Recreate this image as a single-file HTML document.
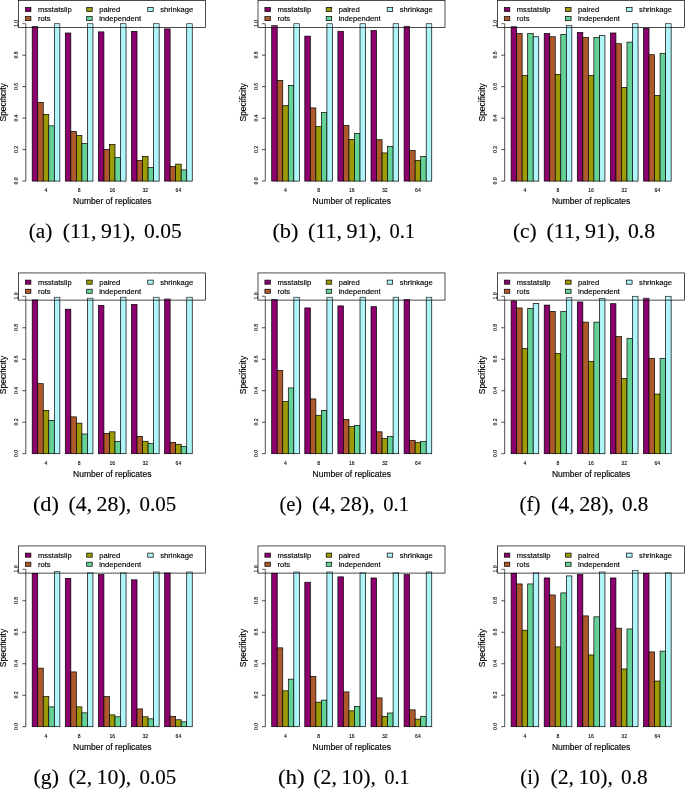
<!DOCTYPE html>
<html><head><meta charset="utf-8"><title>Specificity barplots</title>
<style>
html,body{margin:0;padding:0;background:#fff;overflow:hidden;width:685px;height:789px;}
svg{display:block;transform:translateZ(0);will-change:transform;}
text{font-family:"Liberation Sans",sans-serif;fill:#000;stroke:#000;stroke-width:.15px;}
.t{font-size:5.1px;stroke-width:.1px;}
.l{font-size:8.5px;}
.g{font-size:7.6px;}
.c{font-family:"Liberation Serif",serif;font-size:21px;stroke-width:.12px;}
</style></head><body>
<svg width="685" height="789" viewBox="0 0 685 789">
<rect width="685" height="789" fill="#fff"/>
<g transform="translate(0,0)">
<g stroke="#000" stroke-width="0.7">
<rect x="32.2" y="26.38" width="5.53" height="154.72" fill="#8c006e"/>
<rect x="37.73" y="102.4" width="5.53" height="78.7" fill="#ad592c"/>
<rect x="43.26" y="114.36" width="5.53" height="66.74" fill="#9c9a05"/>
<rect x="48.79" y="125.85" width="5.53" height="55.25" fill="#64d296"/>
<rect x="54.32" y="23.7" width="5.53" height="157.4" fill="#aff4f8"/>
<rect x="65.3" y="32.99" width="5.53" height="148.11" fill="#8c006e"/>
<rect x="70.83" y="131.36" width="5.53" height="49.74" fill="#ad592c"/>
<rect x="76.36" y="135.45" width="5.53" height="45.65" fill="#9c9a05"/>
<rect x="81.89" y="143.64" width="5.53" height="37.46" fill="#64d296"/>
<rect x="87.42" y="23.7" width="5.53" height="157.4" fill="#aff4f8"/>
<rect x="98.4" y="31.88" width="5.53" height="149.22" fill="#8c006e"/>
<rect x="103.93" y="149.31" width="5.53" height="31.79" fill="#ad592c"/>
<rect x="109.46" y="144.43" width="5.53" height="36.67" fill="#9c9a05"/>
<rect x="114.99" y="157.65" width="5.53" height="23.45" fill="#64d296"/>
<rect x="120.52" y="23.7" width="5.53" height="157.4" fill="#aff4f8"/>
<rect x="131.5" y="31.41" width="5.53" height="149.69" fill="#8c006e"/>
<rect x="137.03" y="160.32" width="5.53" height="20.78" fill="#ad592c"/>
<rect x="142.56" y="156.39" width="5.53" height="24.71" fill="#9c9a05"/>
<rect x="148.09" y="167.41" width="5.53" height="13.69" fill="#64d296"/>
<rect x="153.62" y="23.7" width="5.53" height="157.4" fill="#aff4f8"/>
<rect x="164.6" y="28.89" width="5.53" height="152.21" fill="#8c006e"/>
<rect x="170.13" y="166.62" width="5.53" height="14.48" fill="#ad592c"/>
<rect x="175.66" y="164.1" width="5.53" height="17" fill="#9c9a05"/>
<rect x="181.19" y="169.92" width="5.53" height="11.18" fill="#64d296"/>
<rect x="186.72" y="23.7" width="5.53" height="157.4" fill="#aff4f8"/>
</g>
<g stroke="#000" stroke-width="0.7" fill="none">
<path d="M25.8 181.1V23.7M25.8 181.1h-3.4M25.8 149.62h-3.4M25.8 118.14h-3.4M25.8 86.66h-3.4M25.8 55.18h-3.4M25.8 23.7h-3.4"/>
</g>
<text class="t" transform="translate(18.4,180.85) rotate(-90)" text-anchor="middle">0.0</text>
<text class="t" transform="translate(18.4,149.37) rotate(-90)" text-anchor="middle">0.2</text>
<text class="t" transform="translate(18.4,117.89) rotate(-90)" text-anchor="middle">0.4</text>
<text class="t" transform="translate(18.4,86.41) rotate(-90)" text-anchor="middle">0.6</text>
<text class="t" transform="translate(18.4,54.93) rotate(-90)" text-anchor="middle">0.8</text>
<text class="t" transform="translate(18.4,23.45) rotate(-90)" text-anchor="middle">1.0</text>
<text class="l" transform="translate(6.0,102.4) rotate(-90)" text-anchor="middle">Specificity</text>
<text class="t" x="46.03" y="192.3" text-anchor="middle">4</text>
<text class="t" x="79.13" y="192.3" text-anchor="middle">8</text>
<text class="t" x="112.23" y="192.3" text-anchor="middle">16</text>
<text class="t" x="145.32" y="192.3" text-anchor="middle">32</text>
<text class="t" x="178.43" y="192.3" text-anchor="middle">64</text>
<text class="l" x="112.23" y="204.2" text-anchor="middle">Number of replicates</text>
<rect x="18.5" y="0.35" width="187" height="27.15" fill="#fff" fill-opacity="0.15" stroke="#000" stroke-width="0.7"/>
<rect x="25.4" y="7.5" width="5.5" height="4.1" fill="#8c006e" stroke="#000" stroke-width="0.7"/>
<text class="g" x="37.9" y="12.1">msstatslip</text>
<rect x="25.4" y="16.6" width="5.5" height="4.1" fill="#ad592c" stroke="#000" stroke-width="0.7"/>
<text class="g" x="37.9" y="21.2">rots</text>
<rect x="86.7" y="7.5" width="5.5" height="4.1" fill="#9c9a05" stroke="#000" stroke-width="0.7"/>
<text class="g" x="99.2" y="12.1">paired</text>
<rect x="86.7" y="16.6" width="5.5" height="4.1" fill="#64d296" stroke="#000" stroke-width="0.7"/>
<text class="g" x="99.2" y="21.2">independent</text>
<rect x="147.7" y="7.5" width="5.5" height="4.1" fill="#aff4f8" stroke="#000" stroke-width="0.7"/>
<text class="g" x="160.2" y="12.1">shrinkage</text>
<text class="c" x="28.7" y="238.4" textLength="23.6" lengthAdjust="spacingAndGlyphs">(a)</text>
<text class="c" x="62.7" y="238.4" textLength="72.9" lengthAdjust="spacingAndGlyphs">(11, 91),</text>
<text class="c" x="144.1" y="238.4" textLength="37.7" lengthAdjust="spacingAndGlyphs">0.05</text>
</g>
<g transform="translate(239.5,0)">
<g stroke="#000" stroke-width="0.7">
<rect x="32.2" y="25.43" width="5.53" height="155.67" fill="#8c006e"/>
<rect x="37.73" y="80.36" width="5.53" height="100.74" fill="#ad592c"/>
<rect x="43.26" y="105.71" width="5.53" height="75.39" fill="#9c9a05"/>
<rect x="48.79" y="85.4" width="5.53" height="95.7" fill="#64d296"/>
<rect x="54.32" y="23.7" width="5.53" height="157.4" fill="#aff4f8"/>
<rect x="65.3" y="36.13" width="5.53" height="144.97" fill="#8c006e"/>
<rect x="70.83" y="107.91" width="5.53" height="73.19" fill="#ad592c"/>
<rect x="76.36" y="126.64" width="5.53" height="54.46" fill="#9c9a05"/>
<rect x="81.89" y="112.63" width="5.53" height="68.47" fill="#64d296"/>
<rect x="87.42" y="23.7" width="5.53" height="157.4" fill="#aff4f8"/>
<rect x="98.4" y="31.26" width="5.53" height="149.84" fill="#8c006e"/>
<rect x="103.93" y="125.38" width="5.53" height="55.72" fill="#ad592c"/>
<rect x="109.46" y="139.39" width="5.53" height="41.71" fill="#9c9a05"/>
<rect x="114.99" y="133.57" width="5.53" height="47.53" fill="#64d296"/>
<rect x="120.52" y="23.7" width="5.53" height="157.4" fill="#aff4f8"/>
<rect x="131.5" y="30.47" width="5.53" height="150.63" fill="#8c006e"/>
<rect x="137.03" y="139.7" width="5.53" height="41.4" fill="#ad592c"/>
<rect x="142.56" y="152.93" width="5.53" height="28.17" fill="#9c9a05"/>
<rect x="148.09" y="146.31" width="5.53" height="34.79" fill="#64d296"/>
<rect x="153.62" y="23.7" width="5.53" height="157.4" fill="#aff4f8"/>
<rect x="164.6" y="26.22" width="5.53" height="154.88" fill="#8c006e"/>
<rect x="170.13" y="150.41" width="5.53" height="30.69" fill="#ad592c"/>
<rect x="175.66" y="160.32" width="5.53" height="20.78" fill="#9c9a05"/>
<rect x="181.19" y="156.55" width="5.53" height="24.55" fill="#64d296"/>
<rect x="186.72" y="23.7" width="5.53" height="157.4" fill="#aff4f8"/>
</g>
<g stroke="#000" stroke-width="0.7" fill="none">
<path d="M25.8 181.1V23.7M25.8 181.1h-3.4M25.8 149.62h-3.4M25.8 118.14h-3.4M25.8 86.66h-3.4M25.8 55.18h-3.4M25.8 23.7h-3.4"/>
</g>
<text class="t" transform="translate(18.4,180.85) rotate(-90)" text-anchor="middle">0.0</text>
<text class="t" transform="translate(18.4,149.37) rotate(-90)" text-anchor="middle">0.2</text>
<text class="t" transform="translate(18.4,117.89) rotate(-90)" text-anchor="middle">0.4</text>
<text class="t" transform="translate(18.4,86.41) rotate(-90)" text-anchor="middle">0.6</text>
<text class="t" transform="translate(18.4,54.93) rotate(-90)" text-anchor="middle">0.8</text>
<text class="t" transform="translate(18.4,23.45) rotate(-90)" text-anchor="middle">1.0</text>
<text class="l" transform="translate(6.0,102.4) rotate(-90)" text-anchor="middle">Specificity</text>
<text class="t" x="46.03" y="192.3" text-anchor="middle">4</text>
<text class="t" x="79.13" y="192.3" text-anchor="middle">8</text>
<text class="t" x="112.23" y="192.3" text-anchor="middle">16</text>
<text class="t" x="145.32" y="192.3" text-anchor="middle">32</text>
<text class="t" x="178.43" y="192.3" text-anchor="middle">64</text>
<text class="l" x="112.23" y="204.2" text-anchor="middle">Number of replicates</text>
<rect x="18.5" y="0.35" width="187" height="27.15" fill="#fff" fill-opacity="0.15" stroke="#000" stroke-width="0.7"/>
<rect x="25.4" y="7.5" width="5.5" height="4.1" fill="#8c006e" stroke="#000" stroke-width="0.7"/>
<text class="g" x="37.9" y="12.1">msstatslip</text>
<rect x="25.4" y="16.6" width="5.5" height="4.1" fill="#ad592c" stroke="#000" stroke-width="0.7"/>
<text class="g" x="37.9" y="21.2">rots</text>
<rect x="86.7" y="7.5" width="5.5" height="4.1" fill="#9c9a05" stroke="#000" stroke-width="0.7"/>
<text class="g" x="99.2" y="12.1">paired</text>
<rect x="86.7" y="16.6" width="5.5" height="4.1" fill="#64d296" stroke="#000" stroke-width="0.7"/>
<text class="g" x="99.2" y="21.2">independent</text>
<rect x="147.7" y="7.5" width="5.5" height="4.1" fill="#aff4f8" stroke="#000" stroke-width="0.7"/>
<text class="g" x="160.2" y="12.1">shrinkage</text>
<text class="c" x="32.9" y="238.4" textLength="26.1" lengthAdjust="spacingAndGlyphs">(b)</text>
<text class="c" x="68.4" y="238.4" textLength="73.7" lengthAdjust="spacingAndGlyphs">(11, 91),</text>
<text class="c" x="150" y="238.4" textLength="25.6" lengthAdjust="spacingAndGlyphs">0.1</text>
</g>
<g transform="translate(478.9,0)">
<g stroke="#000" stroke-width="0.7">
<rect x="32.2" y="26.69" width="5.53" height="154.41" fill="#8c006e"/>
<rect x="37.73" y="33.62" width="5.53" height="147.48" fill="#ad592c"/>
<rect x="43.26" y="75.48" width="5.53" height="105.62" fill="#9c9a05"/>
<rect x="48.79" y="33.62" width="5.53" height="147.48" fill="#64d296"/>
<rect x="54.32" y="36.76" width="5.53" height="144.34" fill="#aff4f8"/>
<rect x="65.3" y="33.46" width="5.53" height="147.64" fill="#8c006e"/>
<rect x="70.83" y="36.76" width="5.53" height="144.34" fill="#ad592c"/>
<rect x="76.36" y="74.38" width="5.53" height="106.72" fill="#9c9a05"/>
<rect x="81.89" y="34.4" width="5.53" height="146.7" fill="#64d296"/>
<rect x="87.42" y="25.43" width="5.53" height="155.67" fill="#aff4f8"/>
<rect x="98.4" y="32.51" width="5.53" height="148.59" fill="#8c006e"/>
<rect x="103.93" y="37.39" width="5.53" height="143.71" fill="#ad592c"/>
<rect x="109.46" y="75.48" width="5.53" height="105.62" fill="#9c9a05"/>
<rect x="114.99" y="37.39" width="5.53" height="143.71" fill="#64d296"/>
<rect x="120.52" y="35.5" width="5.53" height="145.59" fill="#aff4f8"/>
<rect x="131.5" y="32.99" width="5.53" height="148.11" fill="#8c006e"/>
<rect x="137.03" y="43.69" width="5.53" height="137.41" fill="#ad592c"/>
<rect x="142.56" y="87.45" width="5.53" height="93.65" fill="#9c9a05"/>
<rect x="148.09" y="42.12" width="5.53" height="138.98" fill="#64d296"/>
<rect x="153.62" y="23.7" width="5.53" height="157.4" fill="#aff4f8"/>
<rect x="164.6" y="28.26" width="5.53" height="152.84" fill="#8c006e"/>
<rect x="170.13" y="54.71" width="5.53" height="126.39" fill="#ad592c"/>
<rect x="175.66" y="95.47" width="5.53" height="85.63" fill="#9c9a05"/>
<rect x="181.19" y="53.61" width="5.53" height="127.49" fill="#64d296"/>
<rect x="186.72" y="23.7" width="5.53" height="157.4" fill="#aff4f8"/>
</g>
<g stroke="#000" stroke-width="0.7" fill="none">
<path d="M25.8 181.1V23.7M25.8 181.1h-3.4M25.8 149.62h-3.4M25.8 118.14h-3.4M25.8 86.66h-3.4M25.8 55.18h-3.4M25.8 23.7h-3.4"/>
</g>
<text class="t" transform="translate(18.4,180.85) rotate(-90)" text-anchor="middle">0.0</text>
<text class="t" transform="translate(18.4,149.37) rotate(-90)" text-anchor="middle">0.2</text>
<text class="t" transform="translate(18.4,117.89) rotate(-90)" text-anchor="middle">0.4</text>
<text class="t" transform="translate(18.4,86.41) rotate(-90)" text-anchor="middle">0.6</text>
<text class="t" transform="translate(18.4,54.93) rotate(-90)" text-anchor="middle">0.8</text>
<text class="t" transform="translate(18.4,23.45) rotate(-90)" text-anchor="middle">1.0</text>
<text class="l" transform="translate(6.0,102.4) rotate(-90)" text-anchor="middle">Specificity</text>
<text class="t" x="46.03" y="192.3" text-anchor="middle">4</text>
<text class="t" x="79.13" y="192.3" text-anchor="middle">8</text>
<text class="t" x="112.23" y="192.3" text-anchor="middle">16</text>
<text class="t" x="145.32" y="192.3" text-anchor="middle">32</text>
<text class="t" x="178.43" y="192.3" text-anchor="middle">64</text>
<text class="l" x="112.23" y="204.2" text-anchor="middle">Number of replicates</text>
<rect x="18.5" y="0.35" width="187" height="27.15" fill="#fff" fill-opacity="0.15" stroke="#000" stroke-width="0.7"/>
<rect x="25.4" y="7.5" width="5.5" height="4.1" fill="#8c006e" stroke="#000" stroke-width="0.7"/>
<text class="g" x="37.9" y="12.1">msstatslip</text>
<rect x="25.4" y="16.6" width="5.5" height="4.1" fill="#ad592c" stroke="#000" stroke-width="0.7"/>
<text class="g" x="37.9" y="21.2">rots</text>
<rect x="86.7" y="7.5" width="5.5" height="4.1" fill="#9c9a05" stroke="#000" stroke-width="0.7"/>
<text class="g" x="99.2" y="12.1">paired</text>
<rect x="86.7" y="16.6" width="5.5" height="4.1" fill="#64d296" stroke="#000" stroke-width="0.7"/>
<text class="g" x="99.2" y="21.2">independent</text>
<rect x="147.7" y="7.5" width="5.5" height="4.1" fill="#aff4f8" stroke="#000" stroke-width="0.7"/>
<text class="g" x="160.2" y="12.1">shrinkage</text>
<text class="c" x="34" y="238.4" textLength="23.8" lengthAdjust="spacingAndGlyphs">(c)</text>
<text class="c" x="67.5" y="238.4" textLength="73.7" lengthAdjust="spacingAndGlyphs">(11, 91),</text>
<text class="c" x="149.1" y="238.4" textLength="27.1" lengthAdjust="spacingAndGlyphs">0.8</text>
</g>
<g transform="translate(0,272.6)">
<g stroke="#000" stroke-width="0.7">
<rect x="32.2" y="27.32" width="5.53" height="153.78" fill="#8c006e"/>
<rect x="37.73" y="111.06" width="5.53" height="70.04" fill="#ad592c"/>
<rect x="43.26" y="137.81" width="5.53" height="43.28" fill="#9c9a05"/>
<rect x="48.79" y="147.73" width="5.53" height="33.37" fill="#64d296"/>
<rect x="54.32" y="24.64" width="5.53" height="156.46" fill="#aff4f8"/>
<rect x="65.3" y="36.61" width="5.53" height="144.49" fill="#8c006e"/>
<rect x="70.83" y="144.27" width="5.53" height="36.83" fill="#ad592c"/>
<rect x="76.36" y="150.56" width="5.53" height="30.54" fill="#9c9a05"/>
<rect x="81.89" y="161.42" width="5.53" height="19.68" fill="#64d296"/>
<rect x="87.42" y="25.59" width="5.53" height="155.51" fill="#aff4f8"/>
<rect x="98.4" y="32.83" width="5.53" height="148.27" fill="#8c006e"/>
<rect x="103.93" y="160.8" width="5.53" height="20.3" fill="#ad592c"/>
<rect x="109.46" y="159.22" width="5.53" height="21.88" fill="#9c9a05"/>
<rect x="114.99" y="168.98" width="5.53" height="12.12" fill="#64d296"/>
<rect x="120.52" y="24.64" width="5.53" height="156.46" fill="#aff4f8"/>
<rect x="131.5" y="31.88" width="5.53" height="149.22" fill="#8c006e"/>
<rect x="137.03" y="163.79" width="5.53" height="17.31" fill="#ad592c"/>
<rect x="142.56" y="168.67" width="5.53" height="12.43" fill="#9c9a05"/>
<rect x="148.09" y="171.03" width="5.53" height="10.07" fill="#64d296"/>
<rect x="153.62" y="24.64" width="5.53" height="156.46" fill="#aff4f8"/>
<rect x="164.6" y="26.38" width="5.53" height="154.72" fill="#8c006e"/>
<rect x="170.13" y="169.77" width="5.53" height="11.33" fill="#ad592c"/>
<rect x="175.66" y="171.66" width="5.53" height="9.44" fill="#9c9a05"/>
<rect x="181.19" y="174.02" width="5.53" height="7.08" fill="#64d296"/>
<rect x="186.72" y="24.64" width="5.53" height="156.46" fill="#aff4f8"/>
</g>
<g stroke="#000" stroke-width="0.7" fill="none">
<path d="M25.8 181.1V23.7M25.8 181.1h-3.4M25.8 149.62h-3.4M25.8 118.14h-3.4M25.8 86.66h-3.4M25.8 55.18h-3.4M25.8 23.7h-3.4"/>
</g>
<text class="t" transform="translate(18.4,180.85) rotate(-90)" text-anchor="middle">0.0</text>
<text class="t" transform="translate(18.4,149.37) rotate(-90)" text-anchor="middle">0.2</text>
<text class="t" transform="translate(18.4,117.89) rotate(-90)" text-anchor="middle">0.4</text>
<text class="t" transform="translate(18.4,86.41) rotate(-90)" text-anchor="middle">0.6</text>
<text class="t" transform="translate(18.4,54.93) rotate(-90)" text-anchor="middle">0.8</text>
<text class="t" transform="translate(18.4,23.45) rotate(-90)" text-anchor="middle">1.0</text>
<text class="l" transform="translate(6.0,102.4) rotate(-90)" text-anchor="middle">Specificity</text>
<text class="t" x="46.03" y="192.3" text-anchor="middle">4</text>
<text class="t" x="79.13" y="192.3" text-anchor="middle">8</text>
<text class="t" x="112.23" y="192.3" text-anchor="middle">16</text>
<text class="t" x="145.32" y="192.3" text-anchor="middle">32</text>
<text class="t" x="178.43" y="192.3" text-anchor="middle">64</text>
<text class="l" x="112.23" y="204.2" text-anchor="middle">Number of replicates</text>
<rect x="18.5" y="0.35" width="187" height="27.15" fill="#fff" fill-opacity="0.15" stroke="#000" stroke-width="0.7"/>
<rect x="25.4" y="7.5" width="5.5" height="4.1" fill="#8c006e" stroke="#000" stroke-width="0.7"/>
<text class="g" x="37.9" y="12.1">msstatslip</text>
<rect x="25.4" y="16.6" width="5.5" height="4.1" fill="#ad592c" stroke="#000" stroke-width="0.7"/>
<text class="g" x="37.9" y="21.2">rots</text>
<rect x="86.7" y="7.5" width="5.5" height="4.1" fill="#9c9a05" stroke="#000" stroke-width="0.7"/>
<text class="g" x="99.2" y="12.1">paired</text>
<rect x="86.7" y="16.6" width="5.5" height="4.1" fill="#64d296" stroke="#000" stroke-width="0.7"/>
<text class="g" x="99.2" y="21.2">independent</text>
<rect x="147.7" y="7.5" width="5.5" height="4.1" fill="#aff4f8" stroke="#000" stroke-width="0.7"/>
<text class="g" x="160.2" y="12.1">shrinkage</text>
<text class="c" x="32.9" y="238.4" textLength="26.1" lengthAdjust="spacingAndGlyphs">(d)</text>
<text class="c" x="68.6" y="238.4" textLength="62.6" lengthAdjust="spacingAndGlyphs">(4, 28),</text>
<text class="c" x="139.6" y="238.4" textLength="36.7" lengthAdjust="spacingAndGlyphs">0.05</text>
</g>
<g transform="translate(239.5,272.6)">
<g stroke="#000" stroke-width="0.7">
<rect x="32.2" y="26.85" width="5.53" height="154.25" fill="#8c006e"/>
<rect x="37.73" y="97.84" width="5.53" height="83.26" fill="#ad592c"/>
<rect x="43.26" y="129" width="5.53" height="52.1" fill="#9c9a05"/>
<rect x="48.79" y="115.31" width="5.53" height="65.79" fill="#64d296"/>
<rect x="54.32" y="24.64" width="5.53" height="156.46" fill="#aff4f8"/>
<rect x="65.3" y="35.35" width="5.53" height="145.75" fill="#8c006e"/>
<rect x="70.83" y="126.32" width="5.53" height="54.78" fill="#ad592c"/>
<rect x="76.36" y="142.69" width="5.53" height="38.41" fill="#9c9a05"/>
<rect x="81.89" y="137.97" width="5.53" height="43.13" fill="#64d296"/>
<rect x="87.42" y="24.64" width="5.53" height="156.46" fill="#aff4f8"/>
<rect x="98.4" y="33.3" width="5.53" height="147.8" fill="#8c006e"/>
<rect x="103.93" y="146.79" width="5.53" height="34.31" fill="#ad592c"/>
<rect x="109.46" y="154.03" width="5.53" height="27.07" fill="#9c9a05"/>
<rect x="114.99" y="152.77" width="5.53" height="28.33" fill="#64d296"/>
<rect x="120.52" y="24.64" width="5.53" height="156.46" fill="#aff4f8"/>
<rect x="131.5" y="34.09" width="5.53" height="147.01" fill="#8c006e"/>
<rect x="137.03" y="159.22" width="5.53" height="21.88" fill="#ad592c"/>
<rect x="142.56" y="165.99" width="5.53" height="15.11" fill="#9c9a05"/>
<rect x="148.09" y="163.94" width="5.53" height="17.16" fill="#64d296"/>
<rect x="153.62" y="24.64" width="5.53" height="156.46" fill="#aff4f8"/>
<rect x="164.6" y="26.85" width="5.53" height="154.25" fill="#8c006e"/>
<rect x="170.13" y="167.72" width="5.53" height="13.38" fill="#ad592c"/>
<rect x="175.66" y="169.92" width="5.53" height="11.18" fill="#9c9a05"/>
<rect x="181.19" y="168.98" width="5.53" height="12.12" fill="#64d296"/>
<rect x="186.72" y="24.64" width="5.53" height="156.46" fill="#aff4f8"/>
</g>
<g stroke="#000" stroke-width="0.7" fill="none">
<path d="M25.8 181.1V23.7M25.8 181.1h-3.4M25.8 149.62h-3.4M25.8 118.14h-3.4M25.8 86.66h-3.4M25.8 55.18h-3.4M25.8 23.7h-3.4"/>
</g>
<text class="t" transform="translate(18.4,180.85) rotate(-90)" text-anchor="middle">0.0</text>
<text class="t" transform="translate(18.4,149.37) rotate(-90)" text-anchor="middle">0.2</text>
<text class="t" transform="translate(18.4,117.89) rotate(-90)" text-anchor="middle">0.4</text>
<text class="t" transform="translate(18.4,86.41) rotate(-90)" text-anchor="middle">0.6</text>
<text class="t" transform="translate(18.4,54.93) rotate(-90)" text-anchor="middle">0.8</text>
<text class="t" transform="translate(18.4,23.45) rotate(-90)" text-anchor="middle">1.0</text>
<text class="l" transform="translate(6.0,102.4) rotate(-90)" text-anchor="middle">Specificity</text>
<text class="t" x="46.03" y="192.3" text-anchor="middle">4</text>
<text class="t" x="79.13" y="192.3" text-anchor="middle">8</text>
<text class="t" x="112.23" y="192.3" text-anchor="middle">16</text>
<text class="t" x="145.32" y="192.3" text-anchor="middle">32</text>
<text class="t" x="178.43" y="192.3" text-anchor="middle">64</text>
<text class="l" x="112.23" y="204.2" text-anchor="middle">Number of replicates</text>
<rect x="18.5" y="0.35" width="187" height="27.15" fill="#fff" fill-opacity="0.15" stroke="#000" stroke-width="0.7"/>
<rect x="25.4" y="7.5" width="5.5" height="4.1" fill="#8c006e" stroke="#000" stroke-width="0.7"/>
<text class="g" x="37.9" y="12.1">msstatslip</text>
<rect x="25.4" y="16.6" width="5.5" height="4.1" fill="#ad592c" stroke="#000" stroke-width="0.7"/>
<text class="g" x="37.9" y="21.2">rots</text>
<rect x="86.7" y="7.5" width="5.5" height="4.1" fill="#9c9a05" stroke="#000" stroke-width="0.7"/>
<text class="g" x="99.2" y="12.1">paired</text>
<rect x="86.7" y="16.6" width="5.5" height="4.1" fill="#64d296" stroke="#000" stroke-width="0.7"/>
<text class="g" x="99.2" y="21.2">independent</text>
<rect x="147.7" y="7.5" width="5.5" height="4.1" fill="#aff4f8" stroke="#000" stroke-width="0.7"/>
<text class="g" x="160.2" y="12.1">shrinkage</text>
<text class="c" x="39.9" y="238.4" textLength="22.8" lengthAdjust="spacingAndGlyphs">(e)</text>
<text class="c" x="72.6" y="238.4" textLength="62.5" lengthAdjust="spacingAndGlyphs">(4, 28),</text>
<text class="c" x="143.8" y="238.4" textLength="25.6" lengthAdjust="spacingAndGlyphs">0.1</text>
</g>
<g transform="translate(478.9,272.6)">
<g stroke="#000" stroke-width="0.7">
<rect x="32.2" y="28.26" width="5.53" height="152.84" fill="#8c006e"/>
<rect x="37.73" y="35.35" width="5.53" height="145.75" fill="#ad592c"/>
<rect x="43.26" y="75.8" width="5.53" height="105.3" fill="#9c9a05"/>
<rect x="48.79" y="35.82" width="5.53" height="145.28" fill="#64d296"/>
<rect x="54.32" y="30.78" width="5.53" height="150.32" fill="#aff4f8"/>
<rect x="65.3" y="32.51" width="5.53" height="148.59" fill="#8c006e"/>
<rect x="70.83" y="38.81" width="5.53" height="142.29" fill="#ad592c"/>
<rect x="76.36" y="80.84" width="5.53" height="100.26" fill="#9c9a05"/>
<rect x="81.89" y="38.81" width="5.53" height="142.29" fill="#64d296"/>
<rect x="87.42" y="25.12" width="5.53" height="155.98" fill="#aff4f8"/>
<rect x="98.4" y="29.37" width="5.53" height="151.73" fill="#8c006e"/>
<rect x="103.93" y="49.51" width="5.53" height="131.59" fill="#ad592c"/>
<rect x="109.46" y="88.71" width="5.53" height="92.39" fill="#9c9a05"/>
<rect x="114.99" y="49.51" width="5.53" height="131.59" fill="#64d296"/>
<rect x="120.52" y="25.75" width="5.53" height="155.35" fill="#aff4f8"/>
<rect x="131.5" y="31.1" width="5.53" height="150" fill="#8c006e"/>
<rect x="137.03" y="63.99" width="5.53" height="117.11" fill="#ad592c"/>
<rect x="142.56" y="105.71" width="5.53" height="75.39" fill="#9c9a05"/>
<rect x="148.09" y="65.73" width="5.53" height="115.37" fill="#64d296"/>
<rect x="153.62" y="23.7" width="5.53" height="157.4" fill="#aff4f8"/>
<rect x="164.6" y="25.59" width="5.53" height="155.51" fill="#8c006e"/>
<rect x="170.13" y="85.72" width="5.53" height="95.38" fill="#ad592c"/>
<rect x="175.66" y="121.45" width="5.53" height="59.65" fill="#9c9a05"/>
<rect x="181.19" y="85.72" width="5.53" height="95.38" fill="#64d296"/>
<rect x="186.72" y="23.7" width="5.53" height="157.4" fill="#aff4f8"/>
</g>
<g stroke="#000" stroke-width="0.7" fill="none">
<path d="M25.8 181.1V23.7M25.8 181.1h-3.4M25.8 149.62h-3.4M25.8 118.14h-3.4M25.8 86.66h-3.4M25.8 55.18h-3.4M25.8 23.7h-3.4"/>
</g>
<text class="t" transform="translate(18.4,180.85) rotate(-90)" text-anchor="middle">0.0</text>
<text class="t" transform="translate(18.4,149.37) rotate(-90)" text-anchor="middle">0.2</text>
<text class="t" transform="translate(18.4,117.89) rotate(-90)" text-anchor="middle">0.4</text>
<text class="t" transform="translate(18.4,86.41) rotate(-90)" text-anchor="middle">0.6</text>
<text class="t" transform="translate(18.4,54.93) rotate(-90)" text-anchor="middle">0.8</text>
<text class="t" transform="translate(18.4,23.45) rotate(-90)" text-anchor="middle">1.0</text>
<text class="l" transform="translate(6.0,102.4) rotate(-90)" text-anchor="middle">Specificity</text>
<text class="t" x="46.03" y="192.3" text-anchor="middle">4</text>
<text class="t" x="79.13" y="192.3" text-anchor="middle">8</text>
<text class="t" x="112.23" y="192.3" text-anchor="middle">16</text>
<text class="t" x="145.32" y="192.3" text-anchor="middle">32</text>
<text class="t" x="178.43" y="192.3" text-anchor="middle">64</text>
<text class="l" x="112.23" y="204.2" text-anchor="middle">Number of replicates</text>
<rect x="18.5" y="0.35" width="187" height="27.15" fill="#fff" fill-opacity="0.15" stroke="#000" stroke-width="0.7"/>
<rect x="25.4" y="7.5" width="5.5" height="4.1" fill="#8c006e" stroke="#000" stroke-width="0.7"/>
<text class="g" x="37.9" y="12.1">msstatslip</text>
<rect x="25.4" y="16.6" width="5.5" height="4.1" fill="#ad592c" stroke="#000" stroke-width="0.7"/>
<text class="g" x="37.9" y="21.2">rots</text>
<rect x="86.7" y="7.5" width="5.5" height="4.1" fill="#9c9a05" stroke="#000" stroke-width="0.7"/>
<text class="g" x="99.2" y="12.1">paired</text>
<rect x="86.7" y="16.6" width="5.5" height="4.1" fill="#64d296" stroke="#000" stroke-width="0.7"/>
<text class="g" x="99.2" y="21.2">independent</text>
<rect x="147.7" y="7.5" width="5.5" height="4.1" fill="#aff4f8" stroke="#000" stroke-width="0.7"/>
<text class="g" x="160.2" y="12.1">shrinkage</text>
<text class="c" x="40.5" y="238.4" textLength="21" lengthAdjust="spacingAndGlyphs">(f)</text>
<text class="c" x="72" y="238.4" textLength="63.2" lengthAdjust="spacingAndGlyphs">(4, 28),</text>
<text class="c" x="143.2" y="238.4" textLength="26.3" lengthAdjust="spacingAndGlyphs">0.8</text>
</g>
<g transform="translate(0,545.6)">
<g stroke="#000" stroke-width="0.7">
<rect x="32.2" y="27.79" width="5.53" height="153.31" fill="#8c006e"/>
<rect x="37.73" y="122.55" width="5.53" height="58.55" fill="#ad592c"/>
<rect x="43.26" y="151.04" width="5.53" height="30.06" fill="#9c9a05"/>
<rect x="48.79" y="161.27" width="5.53" height="19.83" fill="#64d296"/>
<rect x="54.32" y="26.06" width="5.53" height="155.04" fill="#aff4f8"/>
<rect x="65.3" y="32.83" width="5.53" height="148.27" fill="#8c006e"/>
<rect x="70.83" y="126.32" width="5.53" height="54.78" fill="#ad592c"/>
<rect x="76.36" y="161.27" width="5.53" height="19.83" fill="#9c9a05"/>
<rect x="81.89" y="167.25" width="5.53" height="13.85" fill="#64d296"/>
<rect x="87.42" y="27.32" width="5.53" height="153.78" fill="#aff4f8"/>
<rect x="98.4" y="29.05" width="5.53" height="152.05" fill="#8c006e"/>
<rect x="103.93" y="151.04" width="5.53" height="30.06" fill="#ad592c"/>
<rect x="109.46" y="169.29" width="5.53" height="11.81" fill="#9c9a05"/>
<rect x="114.99" y="171.18" width="5.53" height="9.92" fill="#64d296"/>
<rect x="120.52" y="27.32" width="5.53" height="153.78" fill="#aff4f8"/>
<rect x="131.5" y="34.25" width="5.53" height="146.85" fill="#8c006e"/>
<rect x="137.03" y="163.31" width="5.53" height="17.79" fill="#ad592c"/>
<rect x="142.56" y="171.18" width="5.53" height="9.92" fill="#9c9a05"/>
<rect x="148.09" y="173.23" width="5.53" height="7.87" fill="#64d296"/>
<rect x="153.62" y="26.38" width="5.53" height="154.72" fill="#aff4f8"/>
<rect x="164.6" y="27.32" width="5.53" height="153.78" fill="#8c006e"/>
<rect x="170.13" y="170.71" width="5.53" height="10.39" fill="#ad592c"/>
<rect x="175.66" y="174.17" width="5.53" height="6.93" fill="#9c9a05"/>
<rect x="181.19" y="176.22" width="5.53" height="4.88" fill="#64d296"/>
<rect x="186.72" y="26.38" width="5.53" height="154.72" fill="#aff4f8"/>
</g>
<g stroke="#000" stroke-width="0.7" fill="none">
<path d="M25.8 181.1V23.7M25.8 181.1h-3.4M25.8 149.62h-3.4M25.8 118.14h-3.4M25.8 86.66h-3.4M25.8 55.18h-3.4M25.8 23.7h-3.4"/>
</g>
<text class="t" transform="translate(18.4,180.85) rotate(-90)" text-anchor="middle">0.0</text>
<text class="t" transform="translate(18.4,149.37) rotate(-90)" text-anchor="middle">0.2</text>
<text class="t" transform="translate(18.4,117.89) rotate(-90)" text-anchor="middle">0.4</text>
<text class="t" transform="translate(18.4,86.41) rotate(-90)" text-anchor="middle">0.6</text>
<text class="t" transform="translate(18.4,54.93) rotate(-90)" text-anchor="middle">0.8</text>
<text class="t" transform="translate(18.4,23.45) rotate(-90)" text-anchor="middle">1.0</text>
<text class="l" transform="translate(6.0,102.4) rotate(-90)" text-anchor="middle">Specificity</text>
<text class="t" x="46.03" y="192.3" text-anchor="middle">4</text>
<text class="t" x="79.13" y="192.3" text-anchor="middle">8</text>
<text class="t" x="112.23" y="192.3" text-anchor="middle">16</text>
<text class="t" x="145.32" y="192.3" text-anchor="middle">32</text>
<text class="t" x="178.43" y="192.3" text-anchor="middle">64</text>
<text class="l" x="112.23" y="204.2" text-anchor="middle">Number of replicates</text>
<rect x="18.5" y="0.35" width="187" height="27.15" fill="#fff" fill-opacity="0.15" stroke="#000" stroke-width="0.7"/>
<rect x="25.4" y="7.5" width="5.5" height="4.1" fill="#8c006e" stroke="#000" stroke-width="0.7"/>
<text class="g" x="37.9" y="12.1">msstatslip</text>
<rect x="25.4" y="16.6" width="5.5" height="4.1" fill="#ad592c" stroke="#000" stroke-width="0.7"/>
<text class="g" x="37.9" y="21.2">rots</text>
<rect x="86.7" y="7.5" width="5.5" height="4.1" fill="#9c9a05" stroke="#000" stroke-width="0.7"/>
<text class="g" x="99.2" y="12.1">paired</text>
<rect x="86.7" y="16.6" width="5.5" height="4.1" fill="#64d296" stroke="#000" stroke-width="0.7"/>
<text class="g" x="99.2" y="21.2">independent</text>
<rect x="147.7" y="7.5" width="5.5" height="4.1" fill="#aff4f8" stroke="#000" stroke-width="0.7"/>
<text class="g" x="160.2" y="12.1">shrinkage</text>
<text class="c" x="33.6" y="238.4" textLength="25.4" lengthAdjust="spacingAndGlyphs">(g)</text>
<text class="c" x="68.6" y="238.4" textLength="62.6" lengthAdjust="spacingAndGlyphs">(2, 10),</text>
<text class="c" x="139.6" y="238.4" textLength="36.7" lengthAdjust="spacingAndGlyphs">0.05</text>
</g>
<g transform="translate(239.5,545.6)">
<g stroke="#000" stroke-width="0.7">
<rect x="32.2" y="27.63" width="5.53" height="153.47" fill="#8c006e"/>
<rect x="37.73" y="102.24" width="5.53" height="78.86" fill="#ad592c"/>
<rect x="43.26" y="145.21" width="5.53" height="35.89" fill="#9c9a05"/>
<rect x="48.79" y="133.57" width="5.53" height="47.53" fill="#64d296"/>
<rect x="54.32" y="26.38" width="5.53" height="154.72" fill="#aff4f8"/>
<rect x="65.3" y="36.61" width="5.53" height="144.49" fill="#8c006e"/>
<rect x="70.83" y="130.73" width="5.53" height="50.37" fill="#ad592c"/>
<rect x="76.36" y="156.55" width="5.53" height="24.55" fill="#9c9a05"/>
<rect x="81.89" y="154.5" width="5.53" height="26.6" fill="#64d296"/>
<rect x="87.42" y="26.38" width="5.53" height="154.72" fill="#aff4f8"/>
<rect x="98.4" y="31.26" width="5.53" height="149.84" fill="#8c006e"/>
<rect x="103.93" y="146.31" width="5.53" height="34.79" fill="#ad592c"/>
<rect x="109.46" y="165.2" width="5.53" height="15.9" fill="#9c9a05"/>
<rect x="114.99" y="160.8" width="5.53" height="20.3" fill="#64d296"/>
<rect x="120.52" y="27.32" width="5.53" height="153.78" fill="#aff4f8"/>
<rect x="131.5" y="32.36" width="5.53" height="148.74" fill="#8c006e"/>
<rect x="137.03" y="152.3" width="5.53" height="28.8" fill="#ad592c"/>
<rect x="142.56" y="170.71" width="5.53" height="10.39" fill="#9c9a05"/>
<rect x="148.09" y="167.41" width="5.53" height="13.69" fill="#64d296"/>
<rect x="153.62" y="27.32" width="5.53" height="153.78" fill="#aff4f8"/>
<rect x="164.6" y="29.05" width="5.53" height="152.05" fill="#8c006e"/>
<rect x="170.13" y="164.26" width="5.53" height="16.84" fill="#ad592c"/>
<rect x="175.66" y="173.54" width="5.53" height="7.56" fill="#9c9a05"/>
<rect x="181.19" y="170.71" width="5.53" height="10.39" fill="#64d296"/>
<rect x="186.72" y="26.38" width="5.53" height="154.72" fill="#aff4f8"/>
</g>
<g stroke="#000" stroke-width="0.7" fill="none">
<path d="M25.8 181.1V23.7M25.8 181.1h-3.4M25.8 149.62h-3.4M25.8 118.14h-3.4M25.8 86.66h-3.4M25.8 55.18h-3.4M25.8 23.7h-3.4"/>
</g>
<text class="t" transform="translate(18.4,180.85) rotate(-90)" text-anchor="middle">0.0</text>
<text class="t" transform="translate(18.4,149.37) rotate(-90)" text-anchor="middle">0.2</text>
<text class="t" transform="translate(18.4,117.89) rotate(-90)" text-anchor="middle">0.4</text>
<text class="t" transform="translate(18.4,86.41) rotate(-90)" text-anchor="middle">0.6</text>
<text class="t" transform="translate(18.4,54.93) rotate(-90)" text-anchor="middle">0.8</text>
<text class="t" transform="translate(18.4,23.45) rotate(-90)" text-anchor="middle">1.0</text>
<text class="l" transform="translate(6.0,102.4) rotate(-90)" text-anchor="middle">Specificity</text>
<text class="t" x="46.03" y="192.3" text-anchor="middle">4</text>
<text class="t" x="79.13" y="192.3" text-anchor="middle">8</text>
<text class="t" x="112.23" y="192.3" text-anchor="middle">16</text>
<text class="t" x="145.32" y="192.3" text-anchor="middle">32</text>
<text class="t" x="178.43" y="192.3" text-anchor="middle">64</text>
<text class="l" x="112.23" y="204.2" text-anchor="middle">Number of replicates</text>
<rect x="18.5" y="0.35" width="187" height="27.15" fill="#fff" fill-opacity="0.15" stroke="#000" stroke-width="0.7"/>
<rect x="25.4" y="7.5" width="5.5" height="4.1" fill="#8c006e" stroke="#000" stroke-width="0.7"/>
<text class="g" x="37.9" y="12.1">msstatslip</text>
<rect x="25.4" y="16.6" width="5.5" height="4.1" fill="#ad592c" stroke="#000" stroke-width="0.7"/>
<text class="g" x="37.9" y="21.2">rots</text>
<rect x="86.7" y="7.5" width="5.5" height="4.1" fill="#9c9a05" stroke="#000" stroke-width="0.7"/>
<text class="g" x="99.2" y="12.1">paired</text>
<rect x="86.7" y="16.6" width="5.5" height="4.1" fill="#64d296" stroke="#000" stroke-width="0.7"/>
<text class="g" x="99.2" y="21.2">independent</text>
<rect x="147.7" y="7.5" width="5.5" height="4.1" fill="#aff4f8" stroke="#000" stroke-width="0.7"/>
<text class="g" x="160.2" y="12.1">shrinkage</text>
<text class="c" x="38.4" y="238.4" textLength="26.8" lengthAdjust="spacingAndGlyphs">(h)</text>
<text class="c" x="73.8" y="238.4" textLength="62.6" lengthAdjust="spacingAndGlyphs">(2, 10),</text>
<text class="c" x="145.1" y="238.4" textLength="25" lengthAdjust="spacingAndGlyphs">0.1</text>
</g>
<g transform="translate(478.9,545.6)">
<g stroke="#000" stroke-width="0.7">
<rect x="32.2" y="27.63" width="5.53" height="153.47" fill="#8c006e"/>
<rect x="37.73" y="38.34" width="5.53" height="142.76" fill="#ad592c"/>
<rect x="43.26" y="84.61" width="5.53" height="96.49" fill="#9c9a05"/>
<rect x="48.79" y="38.34" width="5.53" height="142.76" fill="#64d296"/>
<rect x="54.32" y="27.32" width="5.53" height="153.78" fill="#aff4f8"/>
<rect x="65.3" y="32.36" width="5.53" height="148.74" fill="#8c006e"/>
<rect x="70.83" y="49.36" width="5.53" height="131.74" fill="#ad592c"/>
<rect x="76.36" y="101.3" width="5.53" height="79.8" fill="#9c9a05"/>
<rect x="81.89" y="47.31" width="5.53" height="133.79" fill="#64d296"/>
<rect x="87.42" y="30.31" width="5.53" height="150.79" fill="#aff4f8"/>
<rect x="98.4" y="29.05" width="5.53" height="152.05" fill="#8c006e"/>
<rect x="103.93" y="70.29" width="5.53" height="110.81" fill="#ad592c"/>
<rect x="109.46" y="109.33" width="5.53" height="71.77" fill="#9c9a05"/>
<rect x="114.99" y="71.23" width="5.53" height="109.87" fill="#64d296"/>
<rect x="120.52" y="26.38" width="5.53" height="154.72" fill="#aff4f8"/>
<rect x="131.5" y="32.36" width="5.53" height="148.74" fill="#8c006e"/>
<rect x="137.03" y="82.57" width="5.53" height="98.53" fill="#ad592c"/>
<rect x="142.56" y="123.33" width="5.53" height="57.77" fill="#9c9a05"/>
<rect x="148.09" y="83.35" width="5.53" height="97.75" fill="#64d296"/>
<rect x="153.62" y="24.96" width="5.53" height="156.14" fill="#aff4f8"/>
<rect x="164.6" y="27.63" width="5.53" height="153.47" fill="#8c006e"/>
<rect x="170.13" y="106.33" width="5.53" height="74.77" fill="#ad592c"/>
<rect x="175.66" y="135.45" width="5.53" height="45.65" fill="#9c9a05"/>
<rect x="181.19" y="105.55" width="5.53" height="75.55" fill="#64d296"/>
<rect x="186.72" y="27.32" width="5.53" height="153.78" fill="#aff4f8"/>
</g>
<g stroke="#000" stroke-width="0.7" fill="none">
<path d="M25.8 181.1V23.7M25.8 181.1h-3.4M25.8 149.62h-3.4M25.8 118.14h-3.4M25.8 86.66h-3.4M25.8 55.18h-3.4M25.8 23.7h-3.4"/>
</g>
<text class="t" transform="translate(18.4,180.85) rotate(-90)" text-anchor="middle">0.0</text>
<text class="t" transform="translate(18.4,149.37) rotate(-90)" text-anchor="middle">0.2</text>
<text class="t" transform="translate(18.4,117.89) rotate(-90)" text-anchor="middle">0.4</text>
<text class="t" transform="translate(18.4,86.41) rotate(-90)" text-anchor="middle">0.6</text>
<text class="t" transform="translate(18.4,54.93) rotate(-90)" text-anchor="middle">0.8</text>
<text class="t" transform="translate(18.4,23.45) rotate(-90)" text-anchor="middle">1.0</text>
<text class="l" transform="translate(6.0,102.4) rotate(-90)" text-anchor="middle">Specificity</text>
<text class="t" x="46.03" y="192.3" text-anchor="middle">4</text>
<text class="t" x="79.13" y="192.3" text-anchor="middle">8</text>
<text class="t" x="112.23" y="192.3" text-anchor="middle">16</text>
<text class="t" x="145.32" y="192.3" text-anchor="middle">32</text>
<text class="t" x="178.43" y="192.3" text-anchor="middle">64</text>
<text class="l" x="112.23" y="204.2" text-anchor="middle">Number of replicates</text>
<rect x="18.5" y="0.35" width="187" height="27.15" fill="#fff" fill-opacity="0.15" stroke="#000" stroke-width="0.7"/>
<rect x="25.4" y="7.5" width="5.5" height="4.1" fill="#8c006e" stroke="#000" stroke-width="0.7"/>
<text class="g" x="37.9" y="12.1">msstatslip</text>
<rect x="25.4" y="16.6" width="5.5" height="4.1" fill="#ad592c" stroke="#000" stroke-width="0.7"/>
<text class="g" x="37.9" y="21.2">rots</text>
<rect x="86.7" y="7.5" width="5.5" height="4.1" fill="#9c9a05" stroke="#000" stroke-width="0.7"/>
<text class="g" x="99.2" y="12.1">paired</text>
<rect x="86.7" y="16.6" width="5.5" height="4.1" fill="#64d296" stroke="#000" stroke-width="0.7"/>
<text class="g" x="99.2" y="21.2">independent</text>
<rect x="147.7" y="7.5" width="5.5" height="4.1" fill="#aff4f8" stroke="#000" stroke-width="0.7"/>
<text class="g" x="160.2" y="12.1">shrinkage</text>
<text class="c" x="41.4" y="238.4" textLength="19.4" lengthAdjust="spacingAndGlyphs">(i)</text>
<text class="c" x="71.5" y="238.4" textLength="62.5" lengthAdjust="spacingAndGlyphs">(2, 10),</text>
<text class="c" x="142.2" y="238.4" textLength="26.5" lengthAdjust="spacingAndGlyphs">0.8</text>
</g>
</svg></body></html>
